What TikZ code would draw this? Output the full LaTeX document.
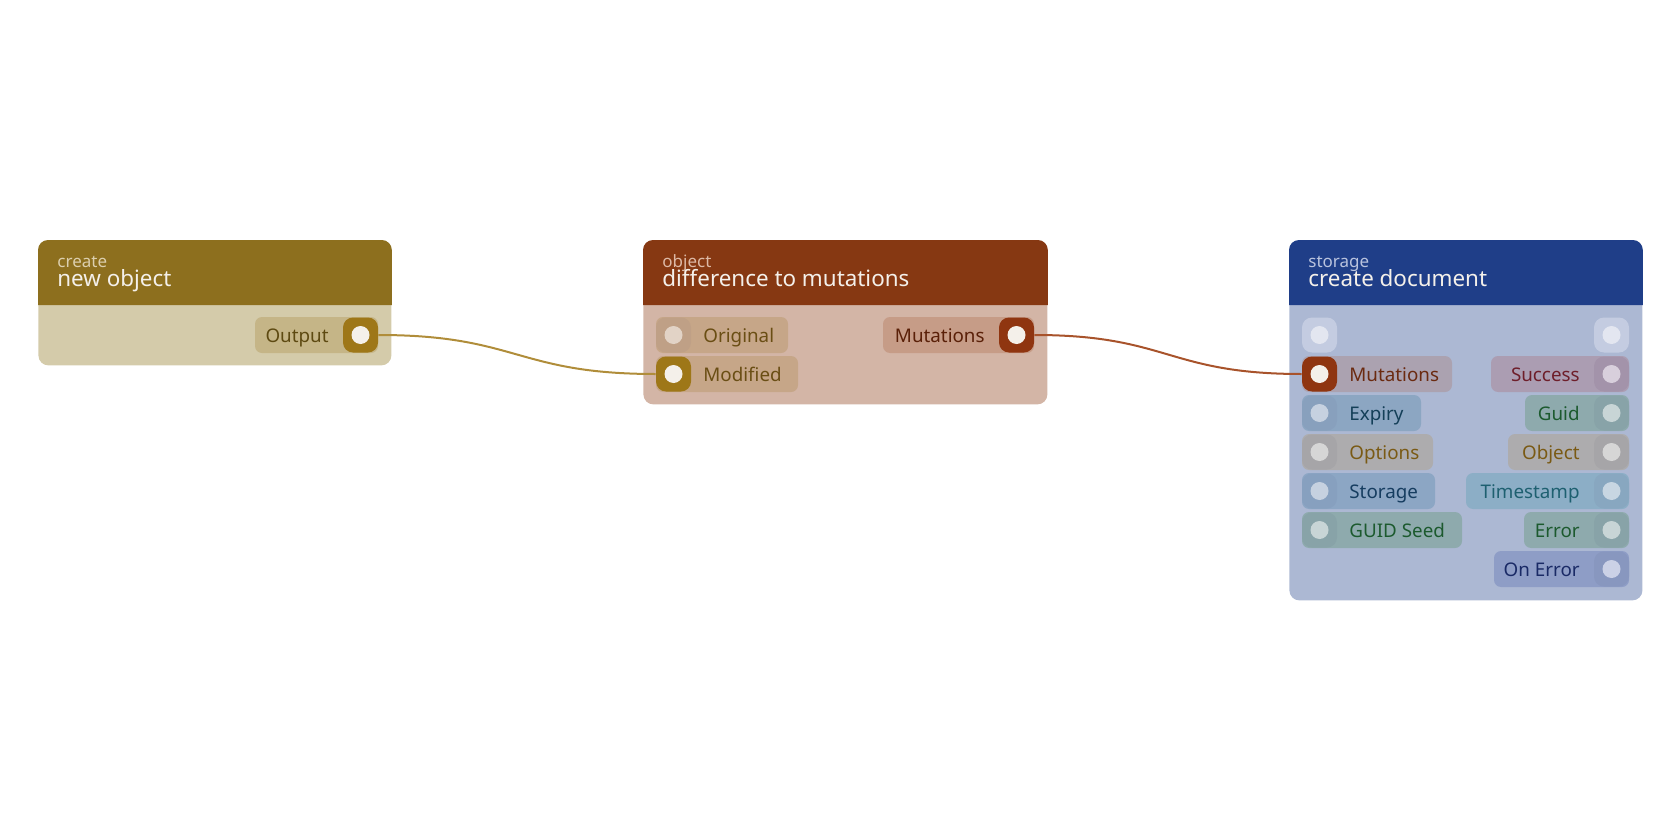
\documentclass[tikz,border=0pt]{standalone}
\usepackage{fontspec}
\setmainfont{Noto Sans}
\definecolor{hA}{HTML}{8D6F1E}\definecolor{bA}{HTML}{D4CBAA}
\definecolor{hB}{HTML}{863812}\definecolor{bB}{HTML}{D3B5A6}
\definecolor{hC}{HTML}{1F3E88}\definecolor{bC}{HTML}{ACB8D3}
\definecolor{goldP}{HTML}{C5B587}\definecolor{goldS}{HTML}{9E7718}\definecolor{cirW}{HTML}{F4F0EA}
\definecolor{goldT}{HTML}{5E4A12}
\definecolor{tanP}{HTML}{C6A688}\definecolor{tanS}{HTML}{BFA086}\definecolor{tanC}{HTML}{E2D3C6}\definecolor{tanT}{HTML}{6A4E14}
\definecolor{rustP}{HTML}{C69C87}\definecolor{rustS}{HTML}{8F3510}\definecolor{rustT}{HTML}{5A2008}
\definecolor{emS}{HTML}{C4CCE1}\definecolor{emC}{HTML}{E3E6F0}
\definecolor{mutP}{HTML}{ABA2B0}\definecolor{mutT}{HTML}{6B2A10}
\definecolor{sucP}{HTML}{AB9DB2}\definecolor{sucS}{HTML}{A393AA}\definecolor{sucC}{HTML}{D8CFDC}\definecolor{sucT}{HTML}{6E1E2A}
\definecolor{expP}{HTML}{8CA6C2}\definecolor{expS}{HTML}{88A0BD}\definecolor{expC}{HTML}{C6D1E0}\definecolor{expT}{HTML}{143F58}
\definecolor{grnP}{HTML}{8EAAAD}\definecolor{grnS}{HTML}{88A3A8}\definecolor{grnC}{HTML}{C8D5D6}\definecolor{grnT}{HTML}{1C5A2E}
\definecolor{gryP}{HTML}{ADACAE}\definecolor{gryS}{HTML}{A6A5A8}\definecolor{gryC}{HTML}{D6D6D6}\definecolor{gryT}{HTML}{7A5A14}
\definecolor{stoP}{HTML}{8CA6C4}\definecolor{stoS}{HTML}{87A0BF}\definecolor{stoT}{HTML}{163D60}
\definecolor{tsP}{HTML}{8CAEC6}\definecolor{tsS}{HTML}{88A7C0}\definecolor{tsC}{HTML}{C8D6E2}\definecolor{tsT}{HTML}{1E6070}
\definecolor{oeP}{HTML}{8E9DC6}\definecolor{oeS}{HTML}{8897BF}\definecolor{oeC}{HTML}{CBD1E6}\definecolor{oeT}{HTML}{1A2A66}
\definecolor{wireA}{HTML}{B08D3A}\definecolor{wireB}{HTML}{A8532B}
\definecolor{subA}{HTML}{DCCFAE}\definecolor{subB}{HTML}{DDB9A6}\definecolor{subC}{HTML}{B9C3DE}
\definecolor{ttlW}{HTML}{F4F0EA}
\tikzset{
  body/.style={rectangle, rounded corners=5pt, inner sep=0pt, anchor=north west},
  sock/.style={rectangle, rounded corners=5pt, minimum size=17.5pt, inner sep=0pt},
  lbl/.style={inner sep=0pt, font=\fontsize{9.4pt}{11pt}\selectfont},
  subttl/.style={inner sep=0pt, anchor=base west, font=\fontsize{8.5pt}{10pt}\selectfont},
  ttl/.style={inner sep=0pt, anchor=base west, text=ttlW, font=\fontsize{11.2pt}{13pt}\selectfont},
  wire/.style={line width=1pt},
}
% left port: name, socket cx, cy, pill x end, label, pill, socket, circle, text
\newcommand{\lport}[9]{%
  \fill[#6, rounded corners=3.5pt] ({#2-17.5},{#3-18}) rectangle ({#4},{#3+18});
  \node[sock, fill=#7] (#1) at (#2,#3) {};
  \fill[#8] (#1.center) circle[radius=4.5pt];
  \node[lbl, text=#9, anchor=base west] (#1-t) at ({#2+29.5},{#3+7}) {#5};
}
% right port: name, socket cx, cy, pill x start, label, pill, socket, circle, text
\newcommand{\rport}[9]{%
  \fill[#6, rounded corners=3.5pt] ({#4},{#3-18}) rectangle ({#2+17.5},{#3+18});
  \node[sock, fill=#7] (#1) at (#2,#3) {};
  \fill[#8] (#1.center) circle[radius=4.5pt];
  \node[lbl, text=#9, anchor=base east] (#1-t) at ({#2-31.5},{#3+7}) {#5};
}
\begin{document}
\begin{tikzpicture}[x=0.5pt,y=-0.5pt]
\useasboundingbox (0,0) rectangle (1680,840);
% ---- node A
\node[body, fill=bA, minimum width=176.5pt, minimum height=62.5pt] (nA) at (38,240) {};
\fill[hA] ([yshift=-32.5pt]nA.north west) [rounded corners=5pt] -- (nA.north west) -- (nA.north east) [sharp corners] -- ([yshift=-32.5pt]nA.north east) -- cycle;
\node[subttl, text=subA] (nA-cat) at (57,267) {create};
\node[ttl] (nA-ttl) at (57,286) {new object};
\rport{aOut}{360.5}{335}{255}{Output}{goldP}{goldS}{cirW}{goldT}
% ---- node B
\node[body, fill=bB, minimum width=202pt, minimum height=82pt] (nB) at (643,240) {};
\fill[hB] ([yshift=-32.5pt]nB.north west) [rounded corners=5pt] -- (nB.north west) -- (nB.north east) [sharp corners] -- ([yshift=-32.5pt]nB.north east) -- cycle;
\node[subttl, text=subB] (nB-cat) at (662,267) {object};
\node[ttl] (nB-ttl) at (662,286) {difference to mutations};
\lport{bOrig}{673.5}{335}{788}{Original}{tanP}{tanS}{tanC}{tanT}
\lport{bMod}{673.5}{374}{798}{Modified}{tanP}{goldS}{cirW}{tanT}
\rport{bMut}{1016.5}{335}{883}{Mutations}{rustP}{rustS}{cirW}{rustT}
% ---- node C
\node[body, fill=bC, minimum width=176.5pt, minimum height=180pt] (nC) at (1289,240) {};
\fill[hC] ([yshift=-32.5pt]nC.north west) [rounded corners=5pt] -- (nC.north west) -- (nC.north east) [sharp corners] -- ([yshift=-32.5pt]nC.north east) -- cycle;
\node[subttl, text=subC] (nC-cat) at (1308,267) {storage};
\node[ttl] (nC-ttl) at (1308,286) {create document};
\node[sock, fill=emS] (cIn) at (1319.5,335) {};
\fill[emC] (cIn.center) circle[radius=4.5pt];
\node[sock, fill=emS] (cOutE) at (1611.5,335) {};
\fill[emC] (cOutE.center) circle[radius=4.5pt];
\lport{cMut}{1319.5}{374}{1452}{Mutations}{mutP}{rustS}{cirW}{mutT}
\lport{cExp}{1319.5}{413}{1421}{Expiry}{expP}{expS}{expC}{expT}
\lport{cOpt}{1319.5}{452}{1433}{Options}{gryP}{gryS}{gryC}{gryT}
\lport{cSto}{1319.5}{491}{1435}{Storage}{stoP}{stoS}{expC}{stoT}
\lport{cSeed}{1319.5}{530}{1462}{GUID Seed}{grnP}{grnS}{grnC}{grnT}
\rport{cSuc}{1611.5}{374}{1491}{Success}{sucP}{sucS}{sucC}{sucT}
\rport{cGuid}{1611.5}{413}{1525}{Guid}{grnP}{grnS}{grnC}{grnT}
\rport{cObj}{1611.5}{452}{1508}{Object}{gryP}{gryS}{gryC}{gryT}
\rport{cTs}{1611.5}{491}{1466}{Timestamp}{tsP}{tsS}{tsC}{tsT}
\rport{cErr}{1611.5}{530}{1524}{Error}{grnP}{grnS}{grnC}{grnT}
\rport{cOE}{1611.5}{569}{1494}{On Error}{oeP}{oeS}{oeC}{oeT}
% ---- connectors
\draw[wire, wireA] (aOut.east) .. controls +(139,0) and +(-139,0) .. (bMod.west);
\draw[wire, wireB] (bMut.east) .. controls +(134,0) and +(-134,0) .. (cMut.west);
\end{tikzpicture}
\end{document}
